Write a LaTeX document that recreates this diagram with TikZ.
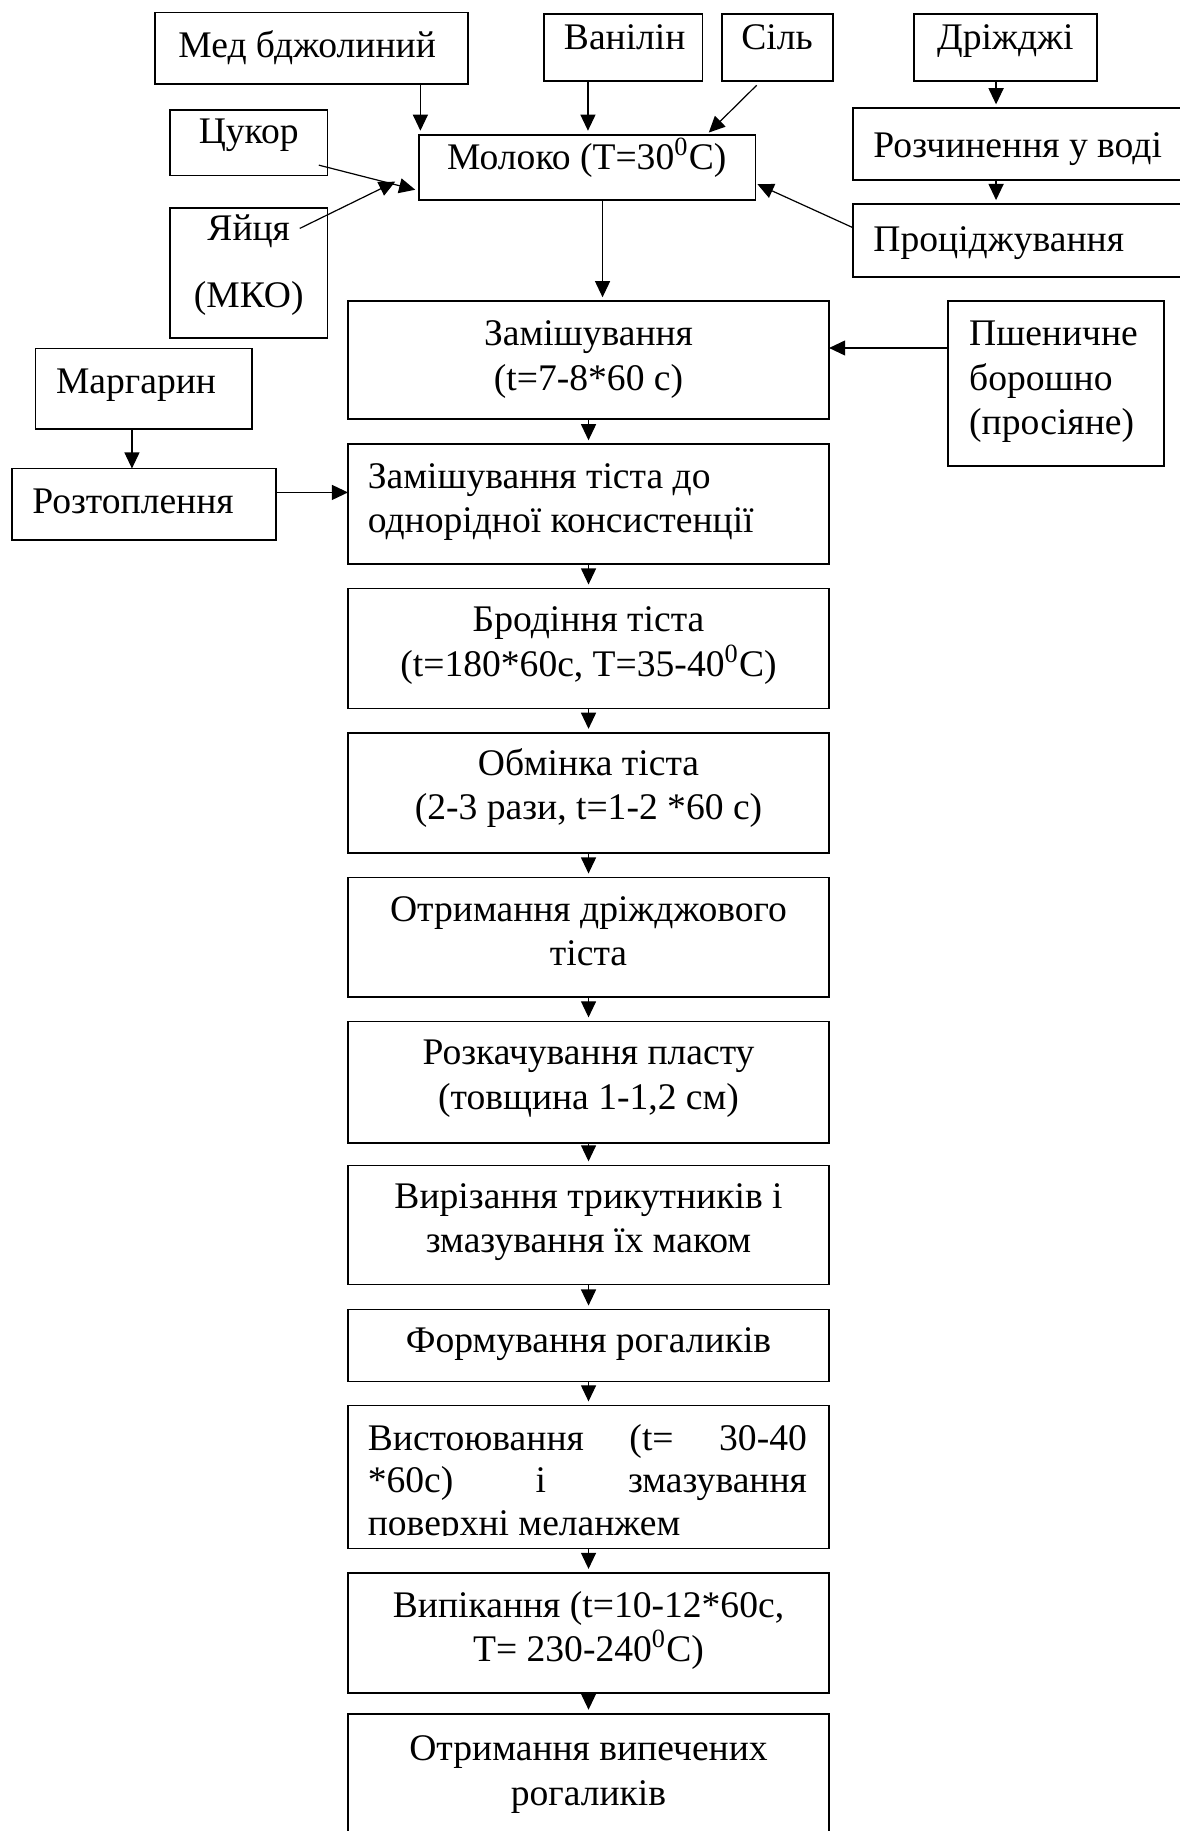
\documentclass[tikz,border=0pt]{standalone}
\usepackage{fontspec}
\setmainfont{Liberation Serif}
\usetikzlibrary{arrows.meta,fit,calc}
\newcommand\fsz{\fontsize{14pt}{16.53pt}\selectfont}
\newcommand\fszb{\fontsize{14pt}{15.88pt}\selectfont}
\newcommand\dg{\smash{\textsuperscript{0}}}
\newcommand\mkbox[5]{\coordinate (#1-a) at (#2,#3);\coordinate (#1-b) at (#4,#5);\node[bx,fit=(#1-a)(#1-b)] (#1) {};}
\begin{document}
\begin{tikzpicture}[x=0.435pt,y=-0.435pt,
 bx/.style={draw,line width=0.65pt,inner sep=0pt,outer sep=0pt},
 txt/.style={inner sep=0pt,outer sep=0pt,font=\fsz},
 arr/.style={line width=0.45pt,-{Triangle[length=6pt,width=5.6pt]}},
 vs/.style={shorten >=1.5pt}]
\useasboundingbox (0,0) rectangle (1010,1568);
% boxes
\mkbox{med}{133}{10.6}{400.6}{72}
\mkbox{van}{466}{12.3}{601.6}{69.4}
\mkbox{sil}{618}{12.3}{713.6}{69.4}
\mkbox{dri}{782.5}{12.3}{939.6}{69.4}
\mkbox{cuk}{145.5}{94}{280.5}{150.2}
\mkbox{yay}{145.5}{178}{280.5}{289.3}
\mkbox{milk}{359}{115.4}{647}{171.5}
\mkbox{roz}{730.5}{92.8}{1013}{154.2}
\mkbox{pro}{730.5}{174.8}{1013}{237}
\mkbox{zam1}{298}{258}{710}{359}
\mkbox{psh}{812}{258}{997}{399}
\mkbox{marg}{30.4}{298.4}{216}{367.2}
\mkbox{rozt}{10.3}{401.2}{236.4}{462.6}
\mkbox{zam2}{298}{380.5}{710}{483}
\mkbox{brod}{298}{504}{710}{606.7}
\mkbox{obm}{298}{627.6}{710}{730.5}
\mkbox{otr}{298}{751.5}{710}{854}
\mkbox{rozk}{298}{874.7}{710}{978.5}
\mkbox{vyriz}{298}{998}{710}{1100}
\mkbox{form}{298}{1121.5}{710}{1183}
\mkbox{vyst}{298}{1203.6}{710}{1326}
\mkbox{vyp}{298}{1347}{710}{1450}
\mkbox{fin}{298}{1467.6}{710}{1575}
% single-line texts
\node[txt,anchor=base] (med-t) at (263,49) {Мед бджолиний};
\node[txt,anchor=base] (van-t) at (535,42) {Ванілін};
\node[txt,anchor=base] (sil-t) at (665.5,42) {Сіль};
\node[txt,anchor=base] (dri-t) at (861,42) {Дріжджі};
\node[txt,anchor=base] (cuk-t) at (213,123) {Цукор};
\node[txt,anchor=base] (yay-t1) at (213,206) {Яйця};
\node[txt,anchor=base] (yay-t2) at (213,263) {(МКО)};
\node[txt,anchor=base] (milk-t) at (502.5,145) {Молоко (T=30\dg C)};
\node[txt,anchor=base west] (roz-t) at (748,135) {Розчинення у воді};
\node[txt,anchor=base west] (pro-t) at (748,215) {Проціджування};
\node[txt,anchor=base west] (marg-t) at (48,337) {Маргарин};
\node[txt,anchor=base west] (rozt-t) at (27.7,440) {Розтоплення};
\node[txt,anchor=base] (form-t) at (504,1158) {Формування рогаликів};
% multi-line texts
\node[txt,anchor=north,align=center] (zam1-t) at (504,269.4) {\strut Замішування\\\strut (t=7-8*60 c)};
\node[txt,anchor=north west,align=left] (psh-t) at (830,269.4) {\strut Пшеничне\\\strut борошно\\\strut (просіяне)};
\node[txt,anchor=north west,align=left] (zam2-t) at (315,391.4) {\strut Замішування тіста до\\\strut однорідної консистенції};
\node[txt,anchor=north,align=center] (brod-t) at (504,514.4) {\strut Бродіння тіста\\\strut (t=180*60c, T=35-40\dg C)};
\node[txt,anchor=north,align=center] (obm-t) at (504,637.4) {\strut Обмінка тіста\\\strut (2-3 рази, t=1-2 *60 c)};
\node[txt,anchor=north,align=center] (otr-t) at (504,762.4) {\strut Отримання дріжджового\\\strut тіста};
\node[txt,anchor=north,align=center] (rozk-t) at (504,885.4) {\strut Розкачування пласту\\\strut (товщина 1-1,2 см)};
\node[txt,anchor=north,align=center] (vyriz-t) at (504,1008.4) {\strut Вирізання трикутників і\\\strut змазування їх маком};
\node[txt,anchor=north,align=center] (vyp-t) at (504,1358.4) {\strut Випікання (t=10-12*60c,\\\strut T= 230-240\dg C)};
\node[txt,anchor=north,align=center] (fin-t) at (504,1481.4) {\strut Отримання випечених\\\strut рогаликів};
\coordinate (vyst-c) at (710,1314.5);
\begin{scope}
\clip (vyst-a) rectangle (vyst-c);
\node[txt,font=\fszb,anchor=north west,text width=163.56pt,align=justify] (vyst-t) at (315,1216.45)
 {\hyphenpenalty=10000\exhyphenpenalty=10000\strut Вистоювання (t= 30-40 \linebreak *60c) і змазування \linebreak поверхні меланжем};
\end{scope}
% arrow helper coordinates
\coordinate (xa) at (360,0);
\coordinate (xb) at (503.5,0);
\coordinate (xc) at (516,0);
\coordinate (xd) at (853,0);
\coordinate (xm) at (113,0);
\coordinate (ye) at (0,298);
\coordinate (yr) at (0,421.7);
\coordinate (yp) at (0,195);
\coordinate (yq) at (0,157);
\coordinate (s1) at (648,73);
\coordinate (s2) at (607,113.5);
\coordinate (c1) at (273,141.4);
\coordinate (c2) at (355.6,162.5);
\coordinate (e1) at (256.7,195.6);
\coordinate (e2) at (338.4,155.6);
% arrows
\draw[arr,vs] (med.south -| xa) -- (milk.north -| xa);
\draw[arr,vs] (van.south -| xb) -- (milk.north -| xb);
\draw[arr] (s1) -- (s2);
\draw[arr] (c1) -- (c2);
\draw[arr] (e1) -- (e2);
\draw[arr,shorten >=0.8pt] (yp -| pro.west) -- (yq -| milk.east);
\draw[arr,vs] (milk.south -| xc) -- (zam1.north -| xc);
\draw[arr,vs] (dri.south -| xd) -- (roz.north -| xd);
\draw[arr,vs] (roz.south -| xd) -- (pro.north -| xd);
\draw[arr] (ye -| psh.west) -- (ye -| zam1.east);
\draw[arr] (marg.south -| xm) -- (rozt.north -| xm);
\draw[arr] (yr -| rozt.east) -- (yr -| zam2.west);
\foreach \a/\b in {zam1/zam2,zam2/brod,brod/obm,obm/otr,otr/rozk,rozk/vyriz,vyriz/form,form/vyst,vyst/vyp,vyp/fin}
  \draw[arr,vs] (\a.south) -- (\b.north);
\end{tikzpicture}
\end{document}
